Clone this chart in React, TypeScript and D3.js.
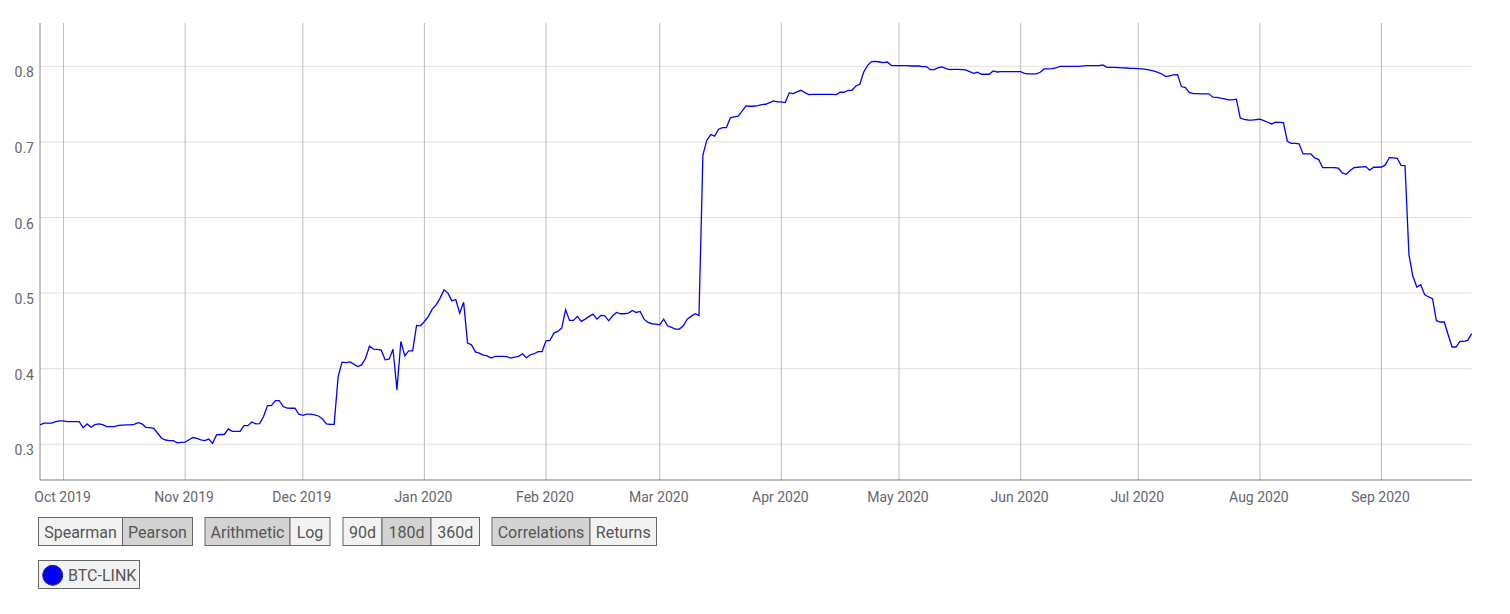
import React from "react";
import * as d3 from "d3";

// Daily BTC-LINK 180d Pearson correlation, starting 2019-09-25
const startDate = new Date(2019, 8, 25);
const correlation: number[] = [
  0.3256, 0.328, 0.328, 0.328, 0.330, 0.331, 0.331, 0.330, 0.330, 0.330,
  0.330, 0.322, 0.327, 0.3225, 0.326, 0.327, 0.326, 0.3234, 0.3234, 0.3234,
  0.325, 0.3255, 0.3256, 0.3256, 0.3265, 0.3287, 0.327, 0.3225, 0.322, 0.321,
  0.3146, 0.308, 0.3057, 0.305, 0.3049, 0.302, 0.3025, 0.303, 0.306, 0.309,
  0.308, 0.306, 0.305, 0.307, 0.3013, 0.3124, 0.313, 0.313, 0.3203, 0.3172,
  0.3172, 0.3172, 0.3247, 0.3247, 0.3296, 0.327, 0.3275, 0.3367, 0.3512, 0.3512,
  0.3578, 0.3578, 0.350, 0.348, 0.3477, 0.3477, 0.340, 0.3384, 0.340, 0.340,
  0.339, 0.3375, 0.3335, 0.3269, 0.3265, 0.3265, 0.3896, 0.4086, 0.408, 0.409,
  0.406, 0.4029, 0.405, 0.4139, 0.4298, 0.4258, 0.4255, 0.4245, 0.4117, 0.4126,
  0.4258, 0.372, 0.436, 0.417, 0.4236, 0.4236, 0.4572, 0.4568, 0.4625, 0.469,
  0.4788, 0.4845, 0.4934, 0.5044, 0.50, 0.4898, 0.4916, 0.4735, 0.488, 0.4338,
  0.4316, 0.4223, 0.4205, 0.4179, 0.417, 0.4141, 0.4163, 0.4163, 0.4163, 0.416,
  0.414, 0.4154, 0.4163, 0.4198, 0.4145, 0.4185, 0.4198, 0.4225, 0.4225, 0.437,
  0.4374, 0.4471, 0.4493, 0.4537, 0.478, 0.4639, 0.4639, 0.4692, 0.4626, 0.4656,
  0.4692, 0.4722, 0.4656, 0.4705, 0.47, 0.4634, 0.47, 0.4744, 0.4727, 0.4727,
  0.4736, 0.4771, 0.4744, 0.4758, 0.4656, 0.4612, 0.4595, 0.459, 0.4581, 0.4656,
  0.4568, 0.4546, 0.4524, 0.4524, 0.4568, 0.4656, 0.4692, 0.4727, 0.4705, 0.6825,
  0.7023, 0.7098, 0.7076, 0.7168, 0.719, 0.719, 0.7318, 0.7331, 0.734, 0.7406,
  0.7476, 0.7472, 0.7472, 0.7481, 0.7494, 0.7498, 0.752, 0.7542, 0.7529, 0.7529,
  0.752, 0.7648, 0.7639, 0.7661, 0.7683, 0.7652, 0.7626, 0.763, 0.763, 0.763,
  0.763, 0.763, 0.763, 0.7626, 0.7657, 0.7657, 0.7683, 0.7683, 0.774, 0.7762,
  0.7925, 0.8013, 0.8062, 0.8066, 0.8057, 0.8048, 0.8057, 0.8013, 0.8009, 0.8009,
  0.8009, 0.8009, 0.8004, 0.8004, 0.8004, 0.7996, 0.7996, 0.7956, 0.7956, 0.7982,
  0.7991, 0.7969, 0.7956, 0.796, 0.796, 0.7956, 0.7952, 0.793, 0.7908, 0.7921,
  0.7895, 0.7895, 0.7895, 0.7939, 0.7925, 0.793, 0.793, 0.793, 0.793, 0.793,
  0.793, 0.7908, 0.7899, 0.7899, 0.7899, 0.7921, 0.7965, 0.7967, 0.7969, 0.7978,
  0.80, 0.80, 0.80, 0.80, 0.80, 0.80, 0.8005, 0.8009, 0.8009, 0.8009,
  0.8009, 0.8018, 0.7987, 0.7987, 0.7985, 0.7982, 0.798, 0.7978, 0.7974, 0.7972,
  0.797, 0.7965, 0.796, 0.795, 0.7935, 0.7921, 0.7899, 0.7864, 0.7875, 0.7886,
  0.789, 0.7732, 0.7719, 0.7654, 0.764, 0.7638, 0.7636, 0.7636, 0.7636, 0.7592,
  0.759, 0.7579, 0.757, 0.7557, 0.7557, 0.7566, 0.7316, 0.7298, 0.729, 0.7287,
  0.7294, 0.73, 0.7282, 0.726, 0.7238, 0.726, 0.7258, 0.7256, 0.7009, 0.6982,
  0.698, 0.6974, 0.6841, 0.6841, 0.6841, 0.6788, 0.6766, 0.666, 0.666, 0.666,
  0.666, 0.6652, 0.659, 0.6572, 0.6621, 0.666, 0.6665, 0.6669, 0.6674, 0.6625,
  0.6665, 0.6665, 0.6668, 0.6696, 0.6793, 0.679, 0.6784, 0.6691, 0.6687, 0.5509,
  0.5222, 0.5081, 0.5112, 0.498, 0.4949, 0.4927, 0.4636, 0.4618, 0.4618, 0.445,
  0.4287, 0.4287, 0.4362, 0.4362, 0.4375, 0.4464,
];

const yTicks: number[] = [0.3, 0.4, 0.5, 0.6, 0.7, 0.8];
const monthTicks: string[] = [
  "2019-10-01", "2019-11-01", "2019-12-01", "2020-01-01", "2020-02-01", "2020-03-01",
  "2020-04-01", "2020-05-01", "2020-06-01", "2020-07-01", "2020-08-01", "2020-09-01",
];
const seriesName = "BTC-LINK";

const buttonGroups: { label: string; selected: boolean }[][] = [
  [{ label: "Spearman", selected: false }, { label: "Pearson", selected: true }],
  [{ label: "Arithmetic", selected: true }, { label: "Log", selected: false }],
  [{ label: "90d", selected: false }, { label: "180d", selected: true }, { label: "360d", selected: false }],
  [{ label: "Correlations", selected: true }, { label: "Returns", selected: false }],
];
const buttonWidths: number[][] = [[84, 70], [85, 40], [39, 49, 48.5], [98, 66.5]];
const groupStarts: number[] = [38.5, 205, 343, 492];

const FONT = "Roboto, 'Noto Sans', sans-serif";
const TICK_COLOR = "#66666e";

export default function App() {
  const W = 1510, H = 614;
  const left = 40, right = 1471.7, top = 23, bottom = 480;
  const data = correlation.map((v, i) => ({ date: d3.timeDay.offset(startDate, i), v }));
  const x = d3.scaleTime()
    .domain(d3.extent(data, (d) => d.date) as [Date, Date])
    .range([left, right]);
  const y = d3.scaleLinear().domain([0.2528, 0.8573]).range([bottom, top]);
  const line = d3.line<{ date: Date; v: number }>()
    .x((d) => x(d.date))
    .y((d) => y(d.v));
  const parse = d3.timeParse("%Y-%m-%d");
  const fmt = d3.timeFormat("%b %Y");
  const months = monthTicks.map((s) => parse(s) as Date);

  return (
    <svg width={W} height={H} style={{ position: "absolute", left: 0, top: 0, background: "#fff" }}>
      {yTicks.map((t) => (
        <g key={t}>
          <line x1={left} x2={right} y1={y(t)} y2={y(t)} stroke="#e0e0e0" strokeWidth={1} />
          <text x={34} y={y(t) + 11} textAnchor="end" fontFamily={FONT} fontSize={14} fill={TICK_COLOR}>
            {d3.format(".1f")(t)}
          </text>
        </g>
      ))}
      {months.map((m) => (
        <g key={m.getTime()}>
          <line x1={x(m)} x2={x(m)} y1={top} y2={bottom} stroke="#bdbdbd" strokeWidth={1} />
          <text x={x(m) - 1} y={502.3} textAnchor="middle" fontFamily={FONT} fontSize={14} fill={TICK_COLOR}>
            {fmt(m)}
          </text>
        </g>
      ))}
      <line x1={left} x2={left} y1={top} y2={bottom} stroke="#888" strokeWidth={1} />
      <line x1={left} x2={right} y1={bottom} y2={bottom} stroke="#777" strokeWidth={1} />
      <path d={line(data) || ""} fill="none" stroke="#0000ff" strokeWidth={1.3} />

      {buttonGroups.map((grp, gi) => {
        let cx = groupStarts[gi];
        return (
          <g key={gi}>
            {grp.map((b, bi) => {
              const w = buttonWidths[gi][bi];
              const bx = cx;
              cx += w;
              return (
                <g key={b.label}>
                  <rect x={bx} y={517.5} width={w} height={28} fill={b.selected ? "#d3d3d3" : "#f2f2f2"} stroke="#666" strokeWidth={1} />
                  <text x={bx + w / 2} y={538} textAnchor="middle" fontFamily={FONT} fontSize={16} fill="#555">
                    {b.label}
                  </text>
                </g>
              );
            })}
          </g>
        );
      })}

      <rect x={38.5} y={560.5} width={101} height={28} fill="#f2f2f2" stroke="#666" strokeWidth={1} />
      <circle cx={52.7} cy={575.3} r={10} fill="#0000ff" stroke="#222266" strokeWidth={1} />
      <text x={68} y={580.5} fontFamily={FONT} fontSize={16} fill="#555">{seriesName}</text>
    </svg>
  );
}
